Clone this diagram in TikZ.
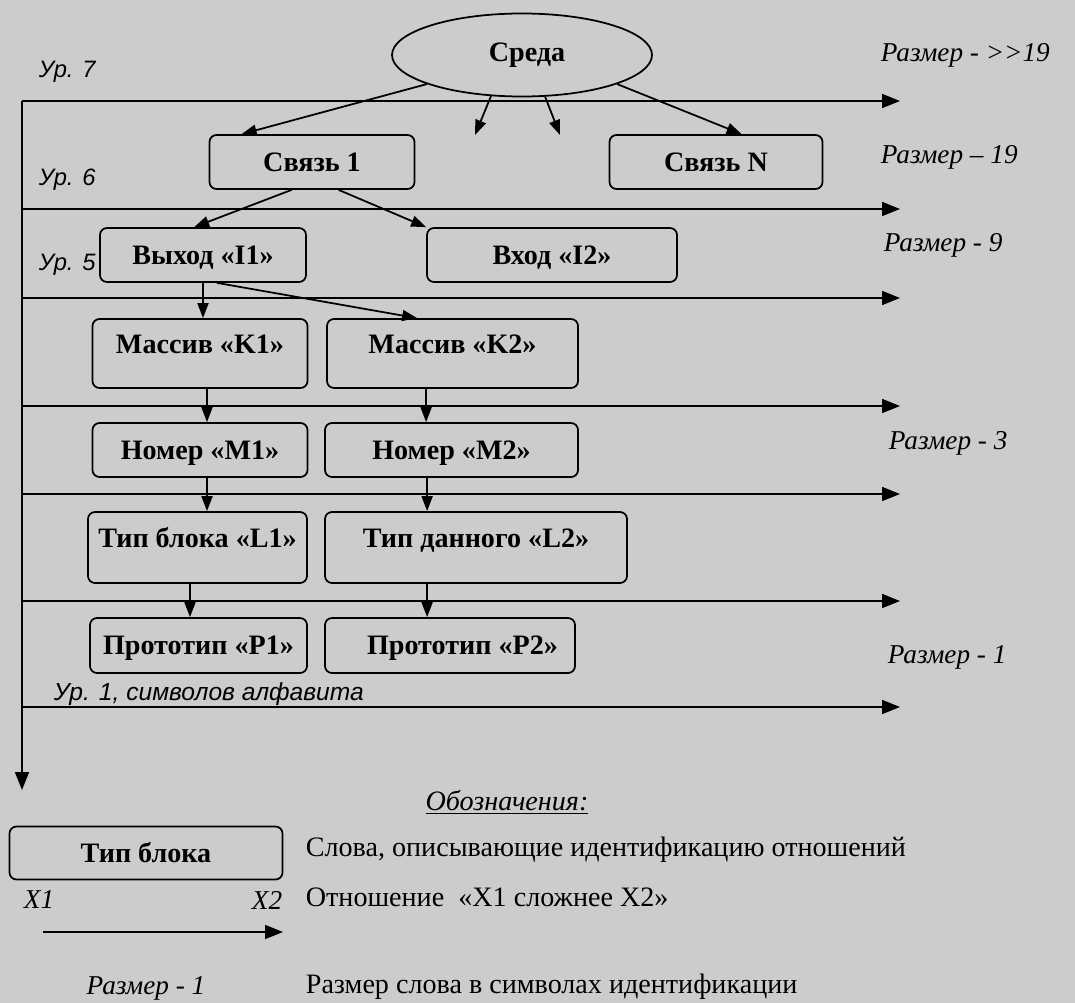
\documentclass[tikz,border=0pt]{standalone}
\usepackage{fontspec}
\setmainfont{Liberation Serif}
\newfontfamily\urfont{Liberation Sans}
\usepackage{tikz}
\usetikzlibrary{arrows.meta, positioning, shapes.geometric, calc}
\definecolor{paper}{gray}{0.80}

\begin{document}
\begin{tikzpicture}[x=0.2mm, y=-0.2mm, line width=1pt,
  blk/.style={draw, rounded corners=1.4mm, inner sep=0pt,
    font=\fontsize{16}{18}\selectfont\bfseries, text height=3.9mm, text depth=0.2mm},
  tallblk/.style={blk, text depth=4mm},
  lvl/.style={-{Triangle[length=3.6mm,width=2.8mm]}},
  link/.style={-{Triangle[length=3mm,width=2.2mm]}},
  ur/.style={font=\fontsize{13.5}{16}\selectfont\urfont\itshape, anchor=west, inner sep=0pt},
  razm/.style={font=\fontsize{15.5}{18}\selectfont\itshape, anchor=west, inner sep=0pt},
  legtxt/.style={font=\fontsize{16}{18}\selectfont, anchor=west, inner sep=0pt}]

  \fill[paper] (0,0) rectangle (1075,1003);
  \useasboundingbox (0,0) rectangle (1075,1003);

  % levels
  \foreach \y in {101,209,298,406,494,601,707}
    \draw[lvl] (22,\y) -- (900,\y);
  \draw[lvl] (22,101) -- (22,790);

  \node[ur] (ur7) at (38,72) {Ур. 7};
  \node[ur] (ur6) at (38,180) {Ур. 6};
  \node[ur] (ur5) at (38,265) {Ур. 5};
  \node[ur, font=\fontsize{14}{16}\selectfont\urfont\itshape] (ur1) at (53,694) {Ур. 1, символов алфавита};

  \node[razm] (r19a) at (880,55) {Размер - >\kern0pt>19};
  \node[razm] (r19) at (880,157) {Размер – 19};
  \node[razm] (r9) at (883,245) {Размер - 9};
  \node[razm] (r3) at (888,443) {Размер - 3};
  \node[razm] (r1) at (887,657) {Размер - 1};

  % blocks
  \node[ellipse, draw, minimum width=52mm, minimum height=16.6mm,
    font=\fontsize{16}{18}\selectfont\bfseries] (sreda) at (522,55) {\hspace*{2mm}Среда};
  \node[blk, minimum width=41mm, minimum height=10.8mm] (svyaz1) at (312,162) {Связь 1};
  \node[blk, minimum width=42.6mm, minimum height=10.8mm] (svyazN) at (716,162) {Связь N};
  \node[blk, minimum width=41.2mm, minimum height=10.8mm] (vyhod) at (203,255) {Выход «I1»};
  \node[blk, minimum width=50mm, minimum height=10.8mm] (vhod) at (552,255) {Вход «I2»};
  \node[tallblk, minimum width=43mm, minimum height=13.8mm] (massK1) at (200,353.5) {Массив «K1»};
  \node[tallblk, minimum width=50.2mm, minimum height=13.8mm] (massK2) at (452.5,353.5) {Массив «K2»};
  \node[blk, minimum width=43mm, minimum height=10.8mm] (nomM1) at (200,450) {Номер «M1»};
  \node[blk, minimum width=50.6mm, minimum height=10.8mm] (nomM2) at (451.5,450) {Номер «M2»};
  \node[tallblk, minimum width=43.8mm, minimum height=14.2mm] (tipL1) at (197.5,547.5) {Тип блока «L1»};
  \node[tallblk, minimum width=60.4mm, minimum height=14.2mm] (tipL2) at (476,547.5) {Тип данного «L2»};
  \node[blk, minimum width=43.4mm, minimum height=11mm] (protP1) at (198.5,645.5) {Прототип «P1»};
  \node[blk, minimum width=50mm, minimum height=11mm] (protP2) at (450,645.5) {\hspace*{5mm}Прототип «P2»};

  % links
  \coordinate (more1) at (475,135);
  \coordinate (more2) at (560,135);
  \draw[link] (sreda.197) -- ([xshift=6.6mm]svyaz1.north west);
  \draw[link] (sreda.-17) -- ([xshift=26.6mm]svyazN.north west);
  \draw[link] (sreda.-127) -- (more1);
  \draw[link] (sreda.-61) -- (more2);
  \draw[link] ([xshift=16.6mm]svyaz1.south west) -- ([xshift=19mm]vyhod.north west);
  \draw[link] ([xshift=26mm]svyaz1.south west) -- (vhod.north west);
  \draw[link] (vyhod.south) -- (vyhod.south |- massK1.north);
  \draw[link] ([xshift=2.8mm]vyhod.south) -- ([xshift=18.2mm]massK2.north west);
  \draw[link] ([xshift=1.4mm]massK1.south) -- ([xshift=1.4mm]nomM1.north);
  \draw[link] ([xshift=20mm]massK2.south west) -- ([xshift=20mm]massK2.south west |- nomM2.north);
  \draw[link] ([xshift=1.4mm]nomM1.south) -- ([xshift=1.4mm]nomM1.south |- tipL1.north);
  \draw[link] ([xshift=20.6mm]nomM2.south west) -- ([xshift=20.6mm]nomM2.south west |- tipL2.north);
  \draw[link] ([xshift=-1.5mm]tipL1.south) -- ([xshift=-1.5mm]tipL1.south |- protP1.north);
  \draw[link] ([xshift=20.6mm]tipL2.south west) -- ([xshift=20.6mm]tipL2.south west |- protP2.north);

  % legend
  \node[font=\fontsize{16}{18}\selectfont\itshape] (oboz) at (507,802) {\underline{Обозначения:}};
  \node[blk, minimum width=54.6mm, minimum height=10.6mm] (legblk) at (146,853) {Тип блока};
  \node[razm, anchor=center] (x1) at (39,900) {X1};
  \node[razm, anchor=center] (x2) at (267,900) {X2};
  \coordinate (lx1) at (43,932);
  \coordinate (lx2) at (283,932);
  \draw[lvl] (lx1) -- (lx2);
  \node[razm, anchor=center] (legr1) at (146,988) {Размер - 1};
  \node[legtxt] (leg1) at (305,850) {Слова, описывающие идентификацию отношений};
  \node[legtxt] (leg2) at (305,897) {Отношение~ «X1 сложнее X2»};
  \node[legtxt] (leg3) at (305,987) {Размер слова в символах идентификации};
\end{tikzpicture}
\end{document}
